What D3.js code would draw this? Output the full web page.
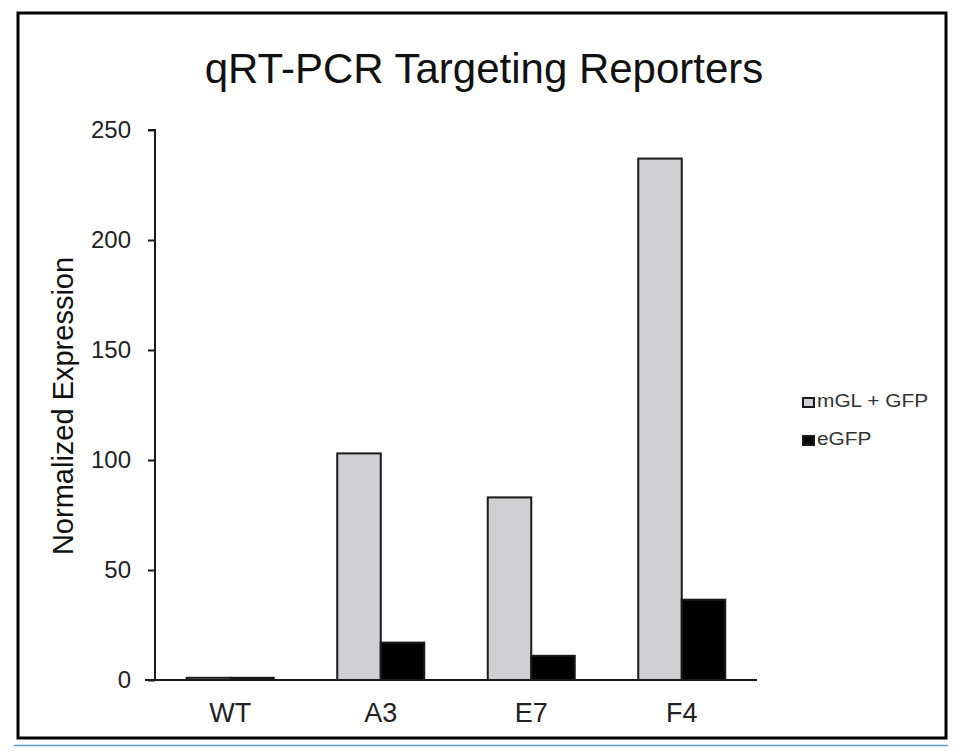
<!DOCTYPE html>
<html>
<head>
<meta charset="utf-8">
<script src="https://cdn.jsdelivr.net/npm/d3@7/dist/d3.min.js"></script>
<style>
html,body{margin:0;padding:0;background:#fff;}
svg{display:block;}
text{font-family:"Liberation Sans",Arial,sans-serif;}
</style>
</head>
<body>
<svg id="chart" width="966" height="753"></svg>
<script>
const categories = ["WT", "A3", "E7", "F4"];
const seriesNames = ["mGL + GFP", "eGFP"];
const mglValues = [1, 103, 83, 237];
const egfpValues = [1, 17, 11, 36.5];
const yTicks = [0, 50, 100, 150, 200, 250];
const seriesColors = ["#d0cfd1", "#000000"];

const svg = d3.select("#chart");

// frame
svg.append("rect").attr("x", 18).attr("y", 13).attr("width", 928).attr("height", 725)
  .attr("fill", "#fff").attr("stroke", "#000").attr("stroke-width", 3);
svg.append("line").attr("x1", 14).attr("x2", 948).attr("y1", 745.5).attr("y2", 745.5)
  .attr("stroke", "#5b9bd5").attr("stroke-width", 1.5);

const x0 = d3.scaleBand().domain(categories).range([155, 757]).padding(0);
const x1 = d3.scaleBand().domain(seriesNames).range([0, 87]).padding(0);
const y = d3.scaleLinear().domain([0, 250]).range([680, 130]);

const data = categories.map((c, i) => ({cat: c, vals: [mglValues[i], egfpValues[i]]}));

// bars
const groups = svg.append("g").selectAll("g").data(data).join("g")
  .attr("transform", d => `translate(${x0(d.cat) + x0.bandwidth() / 2 - 43.5},0)`);
groups.selectAll("rect").data(d => d.vals.map((v, j) => ({v, s: seriesNames[j], j})))
  .join("rect")
  .attr("x", d => x1(d.s))
  .attr("width", x1.bandwidth())
  .attr("y", d => y(d.v))
  .attr("height", d => y(0) - y(d.v))
  .attr("fill", d => seriesColors[d.j])
  .attr("stroke", "#1a1a1a")
  .attr("stroke-width", 2);

// y axis
const yAxis = svg.append("g").attr("transform", "translate(155,0)")
  .call(d3.axisLeft(y).tickValues(yTicks).tickSize(7).tickPadding(17).tickFormat(d3.format("d")));
yAxis.select(".domain").attr("stroke", "#1a1a1a").attr("stroke-width", 2).attr("d", "M-7,130H0V680H-7");
yAxis.selectAll(".tick line").attr("stroke", "#1a1a1a").attr("stroke-width", 2);
yAxis.selectAll(".tick text").attr("font-size", 24).attr("fill", "#222")
  .attr("font-family", "Liberation Sans, Arial, sans-serif");

// x axis
const xAxis = svg.append("g").attr("transform", "translate(0,680)")
  .call(d3.axisBottom(x0).tickSize(0).tickPadding(23));
xAxis.select(".domain").attr("stroke", "#1a1a1a").attr("stroke-width", 2).attr("d", "M145,0H757");
xAxis.selectAll(".tick text").attr("font-size", 27).attr("fill", "#222")
  .attr("font-family", "Liberation Sans, Arial, sans-serif");

// title
svg.append("text").attr("x", 484).attr("y", 83).attr("text-anchor", "middle")
  .attr("font-size", 42).attr("fill", "#111").text("qRT-PCR Targeting Reporters");

// y label
svg.append("text").attr("transform", "translate(73,406) rotate(-90)").attr("text-anchor", "middle")
  .attr("font-size", 29).attr("fill", "#111").text("Normalized Expression");

// legend
const legend = svg.append("g").selectAll("g").data(seriesNames).join("g")
  .attr("transform", (d, i) => `translate(802,${397 + i * 38})`);
legend.append("rect").attr("x", 1).attr("y", 1).attr("width", 11).attr("height", 9)
  .attr("fill", (d, i) => seriesColors[i]).attr("stroke", "#1a1a1a").attr("stroke-width", 2);
legend.append("text").attr("transform", "translate(15,10) scale(1.16,1)")
  .attr("font-size", 18).attr("fill", "#333").text(d => d);
</script>
</body>
</html>
